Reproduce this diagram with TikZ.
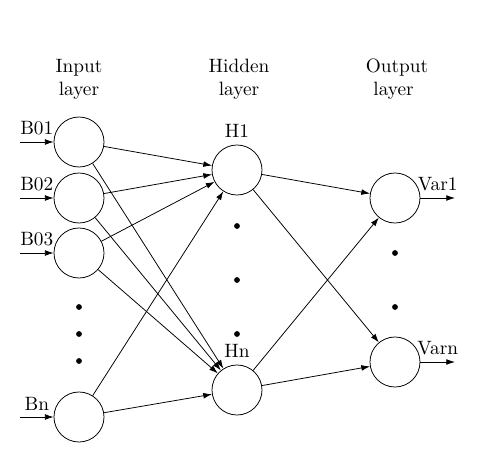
\documentclass[tikz,border=0pt]{standalone}
\usetikzlibrary{arrows.meta}
\begin{document}
\begin{tikzpicture}[x=0.518pt,y=-0.518pt,
  neuron/.style={circle,draw,minimum size=25.9pt,inner sep=0pt},
  conn/.style={-{Latex[length=4.5pt,width=3pt]}},
  dotmark/.style={circle,fill,inner sep=0pt,minimum size=3pt},
  layerlbl/.style={align=center}]
\useasboundingbox (0,0) rectangle (477,461);
% input layer
\node[neuron] (I1) at (79,142) {};
\node[neuron] (I2) at (79,198) {};
\node[neuron] (I3) at (79,253) {};
\node[neuron] (In) at (79,417) {};
% hidden layer
\node[neuron,label={above:H1}] (H1) at (237,170) {};
\node[neuron,label={above:Hn}] (Hn) at (237,390) {};
% output layer
\node[neuron] (O1) at (395,198) {};
\node[neuron] (On) at (395,362) {};
% dots
\node[dotmark] (d1) at (79,307) {};
\node[dotmark] (d2) at (79,334) {};
\node[dotmark] (d3) at (79,361) {};
\node[dotmark] (d4) at (237,226) {};
\node[dotmark] (d5) at (237,280) {};
\node[dotmark] (d6) at (237,334) {};
\node[dotmark] (d7) at (395,253) {};
\node[dotmark] (d8) at (395,307) {};
% layer titles
\node[layerlbl] (t1) at (79,79) {Input\\layer};
\node[layerlbl] (t2) at (239,79) {Hidden\\layer};
\node[layerlbl] (t3) at (397,79) {Output\\layer\hspace*{3.6pt}};
% input arrows
\coordinate (a1) at (20,142);
\coordinate (a2) at (20,198);
\coordinate (a3) at (20,253);
\coordinate (an) at (20,417);
\draw[conn] (a1) -- node[above] {B01} (I1);
\draw[conn] (a2) -- node[above] {B02} (I2);
\draw[conn] (a3) -- node[above] {B03} (I3);
\draw[conn] (an) -- node[above] {Bn} (In);
% output arrows
\coordinate (b1) at (455,198);
\coordinate (bn) at (455,362);
\draw[conn] (O1) -- node[above] {Var1} (b1);
\draw[conn] (On) -- node[above] {Varn} (bn);
% input to hidden
\foreach \s in {I1,I2,I3,In}{
  \draw[conn] (\s) -- (H1);
  \draw[conn] (\s) -- (Hn);
}
% hidden to output
\foreach \s in {H1,Hn}{
  \draw[conn] (\s) -- (O1);
  \draw[conn] (\s) -- (On);
}
\end{tikzpicture}
\end{document}
